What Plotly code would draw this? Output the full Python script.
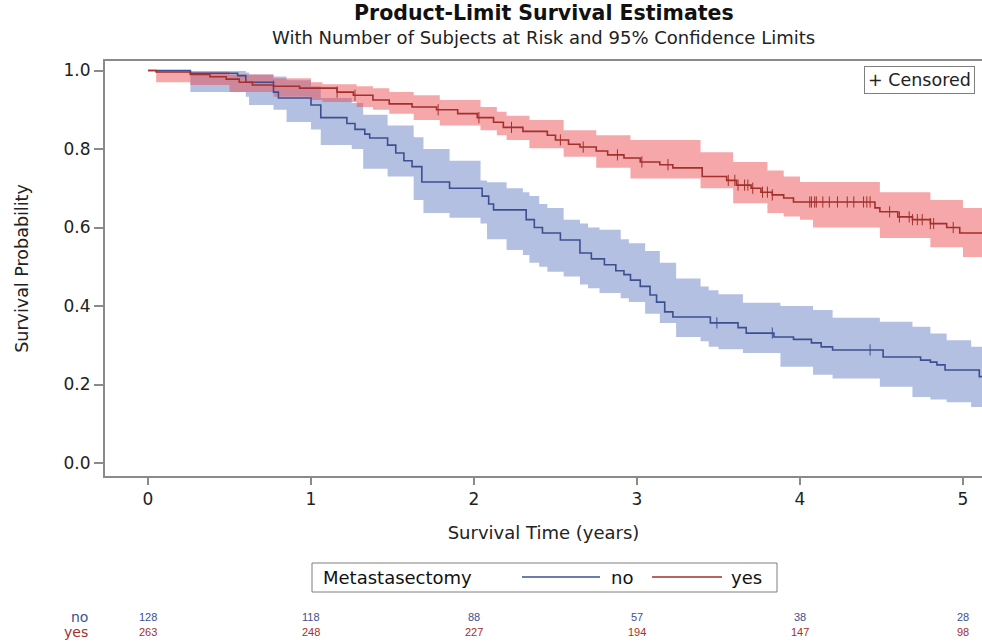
import plotly.graph_objects as go

# ---------------- data ----------------
# Kaplan-Meier step curves: time of step (years) and survival after the step
no_time = [0, 0.26, 0.55, 0.60, 0.77, 0.80, 1.00, 1.06, 1.22, 1.27, 1.33, 1.36, 1.47, 1.52, 1.57, 1.62,
           1.68, 1.85, 2.05, 2.09, 2.12, 2.32, 2.37, 2.42, 2.53, 2.65, 2.72, 2.80, 2.87, 2.92, 2.96,
           3.02, 3.08, 3.12, 3.17, 3.22, 3.45, 3.62, 3.67, 3.84, 3.96, 4.07, 4.13, 4.20, 4.51, 4.74,
           4.80, 4.84, 4.89, 5.10, 5.12]
no_surv = [1.0, 0.993, 0.987, 0.97, 0.945, 0.93, 0.912, 0.88, 0.865, 0.85, 0.838, 0.828, 0.81, 0.79, 0.77, 0.755,
           0.716, 0.70, 0.68, 0.66, 0.645, 0.62, 0.60, 0.586, 0.568, 0.535, 0.52, 0.505, 0.49, 0.48, 0.466,
           0.45, 0.428, 0.41, 0.385, 0.372, 0.357, 0.345, 0.331, 0.321, 0.315, 0.306, 0.296, 0.288, 0.27, 0.262,
           0.257, 0.25, 0.237, 0.22, 0.22]

yes_time = [0, 0.05, 0.26, 0.38, 0.48, 0.56, 0.64, 0.77, 0.93, 1.16, 1.26, 1.38, 1.48, 1.62, 1.77, 1.90,
            2.02, 2.12, 2.18, 2.30, 2.45, 2.50, 2.58, 2.65, 2.75, 2.82, 2.92, 3.02, 3.14, 3.22, 3.40,
            3.55, 3.61, 3.70, 3.76, 3.83, 3.90, 3.96, 4.46, 4.49, 4.60, 4.69, 4.80, 4.90, 4.98, 5.12]
yes_surv = [1.0, 0.996, 0.99, 0.984, 0.978, 0.97, 0.963, 0.96, 0.955, 0.945, 0.937, 0.925, 0.915, 0.907, 0.90, 0.89,
            0.88, 0.868, 0.855, 0.845, 0.835, 0.823, 0.812, 0.805, 0.795, 0.785, 0.777, 0.767, 0.76, 0.752, 0.73,
            0.72, 0.708, 0.70, 0.69, 0.683, 0.675, 0.665, 0.65, 0.64, 0.627, 0.62, 0.61, 0.60, 0.586, 0.586]

# 95% confidence limits (step functions)
no_ci_time = [0, 0.26, 0.60, 0.62, 0.77, 0.85, 1.00, 1.06, 1.25, 1.32, 1.47, 1.63, 1.69, 1.85, 2.04, 2.08,
              2.20, 2.30, 2.34, 2.40, 2.45, 2.55, 2.65, 2.70, 2.77, 2.90, 2.95, 3.05, 3.14, 3.24, 3.39,
              3.44, 3.50, 3.65, 3.88, 4.08, 4.20, 4.49, 4.69, 4.80, 4.90, 5.05, 5.12]
no_ci_lo = [1.0, 0.945, 0.933, 0.912, 0.90, 0.869, 0.85, 0.81, 0.80, 0.75, 0.73, 0.67, 0.637, 0.625, 0.61, 0.57,
            0.543, 0.53, 0.51, 0.50, 0.487, 0.475, 0.455, 0.445, 0.433, 0.42, 0.41, 0.38, 0.357, 0.321, 0.31,
            0.296, 0.29, 0.28, 0.245, 0.225, 0.215, 0.194, 0.168, 0.162, 0.155, 0.143, 0.143]
no_ci_hi = [1.0, 0.999, 0.995, 0.99, 0.985, 0.975, 0.96, 0.93, 0.917, 0.887, 0.86, 0.83, 0.80, 0.77, 0.72, 0.715,
            0.70, 0.69, 0.68, 0.66, 0.65, 0.62, 0.61, 0.60, 0.594, 0.57, 0.56, 0.54, 0.51, 0.47, 0.45,
            0.44, 0.43, 0.408, 0.40, 0.39, 0.37, 0.36, 0.347, 0.33, 0.313, 0.296, 0.296]

yes_ci_time = [0, 0.05, 0.26, 0.50, 0.77, 1.00, 1.07, 1.28, 1.38, 1.48, 1.63, 1.79, 2.04, 2.14, 2.20, 2.34,
               2.55, 2.75, 2.96, 3.39, 3.59, 3.80, 3.90, 4.00, 4.08, 4.49, 4.80, 5.00, 5.12]
yes_ci_lo = [1.0, 0.97, 0.963, 0.945, 0.933, 0.925, 0.92, 0.907, 0.90, 0.89, 0.874, 0.86, 0.848, 0.835, 0.823, 0.802,
             0.78, 0.752, 0.725, 0.70, 0.662, 0.637, 0.628, 0.62, 0.60, 0.573, 0.55, 0.525, 0.517]
yes_ci_hi = [1.0, 1.0, 0.997, 0.99, 0.98, 0.97, 0.965, 0.96, 0.955, 0.945, 0.937, 0.925, 0.907, 0.895, 0.885, 0.874,
             0.848, 0.835, 0.823, 0.792, 0.767, 0.745, 0.73, 0.716, 0.716, 0.69, 0.67, 0.65, 0.637]

# censored observations (years)
no_censor = [3.49, 3.83, 4.43]
yes_censor = [0.77, 1.16, 1.27, 1.78, 2.03, 2.23, 2.53, 2.67, 2.88, 3.03, 3.19, 3.56, 3.60, 3.62, 3.66, 3.68,
              3.71, 3.77, 3.80, 3.83, 4.06, 4.07, 4.09, 4.10, 4.14, 4.18, 4.23, 4.29, 4.33, 4.39, 4.41, 4.43,
              4.55, 4.61, 4.67, 4.69, 4.72, 4.75, 4.80, 4.82, 4.94]

# number at risk
risk_times = [0, 1, 2, 3, 4, 5]
risk_no = [128, 118, 88, 57, 38, 28]
risk_yes = [263, 248, 227, 194, 147, 98]

groups = ["no", "yes"]
legend_title = "Metastasectomy"
x_ticks = [0, 1, 2, 3, 4, 5]
y_ticks = [0.0, 0.2, 0.4, 0.6, 0.8, 1.0]

# ---------------- styling ----------------
BLUE = "#3d4f93"
RED = "#a3302c"
BLUE_FILL = "rgba(105,129,195,0.5)"
RED_FILL = "rgba(234,72,78,0.48)"
AX = "#8a8a8a"
FONT = "DejaVu Sans"

W, H = 982, 644
plot_left, plot_right = 105, 982
plot_top, plot_bottom = 61, 476
pw = plot_right - plot_left
ph = plot_bottom - plot_top


def px(pix):
    return (pix - plot_left) / pw


def py(pix):
    return (plot_bottom - pix) / ph


def step_value(times, vals, t):
    v = vals[0]
    for ti, vi in zip(times, vals):
        if ti <= t:
            v = vi
        else:
            break
    return v


fig = go.Figure()

# bands
for t, lo, hi, fillc in [(no_ci_time, no_ci_lo, no_ci_hi, BLUE_FILL),
                         (yes_ci_time, yes_ci_lo, yes_ci_hi, RED_FILL)]:
    fig.add_trace(go.Scatter(x=t, y=hi, mode="lines", line=dict(width=0, shape="hv"),
                             showlegend=False, hoverinfo="skip"))
    fig.add_trace(go.Scatter(x=t, y=lo, mode="lines", line=dict(width=0, shape="hv"),
                             fill="tonexty", fillcolor=fillc, showlegend=False, hoverinfo="skip"))

# curves
fig.add_trace(go.Scatter(x=no_time, y=no_surv, mode="lines", name=groups[0], showlegend=False,
                         line=dict(color=BLUE, width=1.6, shape="hv")))
fig.add_trace(go.Scatter(x=yes_time, y=yes_surv, mode="lines", name=groups[1], showlegend=False,
                         line=dict(color=RED, width=1.6, shape="hv")))

# censor marks
fig.add_trace(go.Scatter(x=no_censor, y=[step_value(no_time, no_surv, t) for t in no_censor],
                         mode="markers", showlegend=False,
                         marker=dict(symbol="line-ns", size=8, line=dict(color=BLUE, width=1))))
fig.add_trace(go.Scatter(x=yes_censor, y=[step_value(yes_time, yes_surv, t) for t in yes_censor],
                         mode="markers", showlegend=False,
                         marker=dict(symbol="line-ns", size=8, line=dict(color=RED, width=1))))

annotations = [
    dict(text="<b>Product-Limit Survival Estimates</b>", x=0.5, y=py(13), xref="paper", yref="paper",
         yanchor="middle", showarrow=False, font=dict(family=FONT, size=20.5, color="#111")),
    dict(text="With Number of Subjects at Risk and 95% Confidence Limits", x=0.5, y=py(37), xref="paper",
         yref="paper", yanchor="middle", showarrow=False, font=dict(family=FONT, size=18, color="#222")),
    dict(text="+ Censored", x=px(975), y=py(66), xref="paper", yref="paper", xanchor="right", yanchor="top",
         showarrow=False, bordercolor="#7f7f7f", borderwidth=1, borderpad=3, bgcolor="white",
         font=dict(family=FONT, size=17.5, color="#222")),
]

# custom legend (box, title, line samples, labels)
leg_y = py(577)
shapes = [
    dict(type="rect", xref="paper", yref="paper", x0=px(312), x1=px(777), y0=py(563), y1=py(592),
         line=dict(color="#7f7f7f", width=1), fillcolor="white", layer="above"),
    dict(type="line", xref="paper", yref="paper", x0=px(522), x1=px(600), y0=leg_y, y1=leg_y,
         line=dict(color=BLUE, width=1.6)),
    dict(type="line", xref="paper", yref="paper", x0=px(652), x1=px(722), y0=leg_y, y1=leg_y,
         line=dict(color=RED, width=1.6)),
]
annotations += [
    dict(text=legend_title, x=px(321), y=leg_y, xref="paper", yref="paper", xanchor="left", yanchor="middle",
         showarrow=False, font=dict(family=FONT, size=18, color="#111")),
    dict(text=groups[0], x=px(609), y=leg_y, xref="paper", yref="paper", xanchor="left", yanchor="middle",
         showarrow=False, font=dict(family=FONT, size=18, color="#111")),
    dict(text=groups[1], x=px(729), y=leg_y, xref="paper", yref="paper", xanchor="left", yanchor="middle",
         showarrow=False, font=dict(family=FONT, size=18, color="#111")),
]

# at-risk table
for label, vals, color, ypix in [(groups[0], risk_no, BLUE, 617), (groups[1], risk_yes, RED, 632)]:
    annotations.append(dict(text=label, x=px(90), y=py(ypix), xref="paper", yref="paper", xanchor="right",
                            yanchor="middle", showarrow=False, font=dict(family=FONT, size=14, color=color)))
    for t, v in zip(risk_times, vals):
        annotations.append(dict(text=str(v), x=t, y=py(ypix), xref="x", yref="paper", xanchor="center",
                                yanchor="middle", showarrow=False,
                                font=dict(family="Liberation Sans Narrow, Liberation Sans", size=11,
                                          color=color)))

fig.update_layout(
    width=W, height=H,
    margin=dict(l=plot_left, r=W - plot_right, t=plot_top, b=H - plot_bottom),
    paper_bgcolor="white", plot_bgcolor="white",
    font=dict(family=FONT, color="#222"),
    annotations=annotations,
    shapes=shapes,
    showlegend=False,
    xaxis=dict(range=[-0.2638, 5.1166], tickvals=x_ticks, ticktext=[str(v) for v in x_ticks],
               showgrid=False, zeroline=False, showline=True, linecolor=AX, linewidth=2, mirror=True,
               ticks="outside", ticklen=7, tickcolor=AX, tickwidth=1.5,
               tickfont=dict(family=FONT, size=17, color="#222"),
               title=dict(text="Survival Time (years)", font=dict(family=FONT, size=18, color="#222"),
                          standoff=18)),
    yaxis=dict(range=[-0.0331, 1.0242], tickvals=y_ticks, ticktext=[f"{v:.1f}" for v in y_ticks],
               showgrid=False, zeroline=False, showline=True, linecolor=AX, linewidth=2,
               ticks="outside", ticklen=9, tickcolor=AX, tickwidth=1.5,
               tickfont=dict(family=FONT, size=17, color="#222"),
               title=dict(text="Survival Probability", font=dict(family=FONT, size=17.5, color="#222"),
                          standoff=30)),
)

fig.write_html("out.html")
